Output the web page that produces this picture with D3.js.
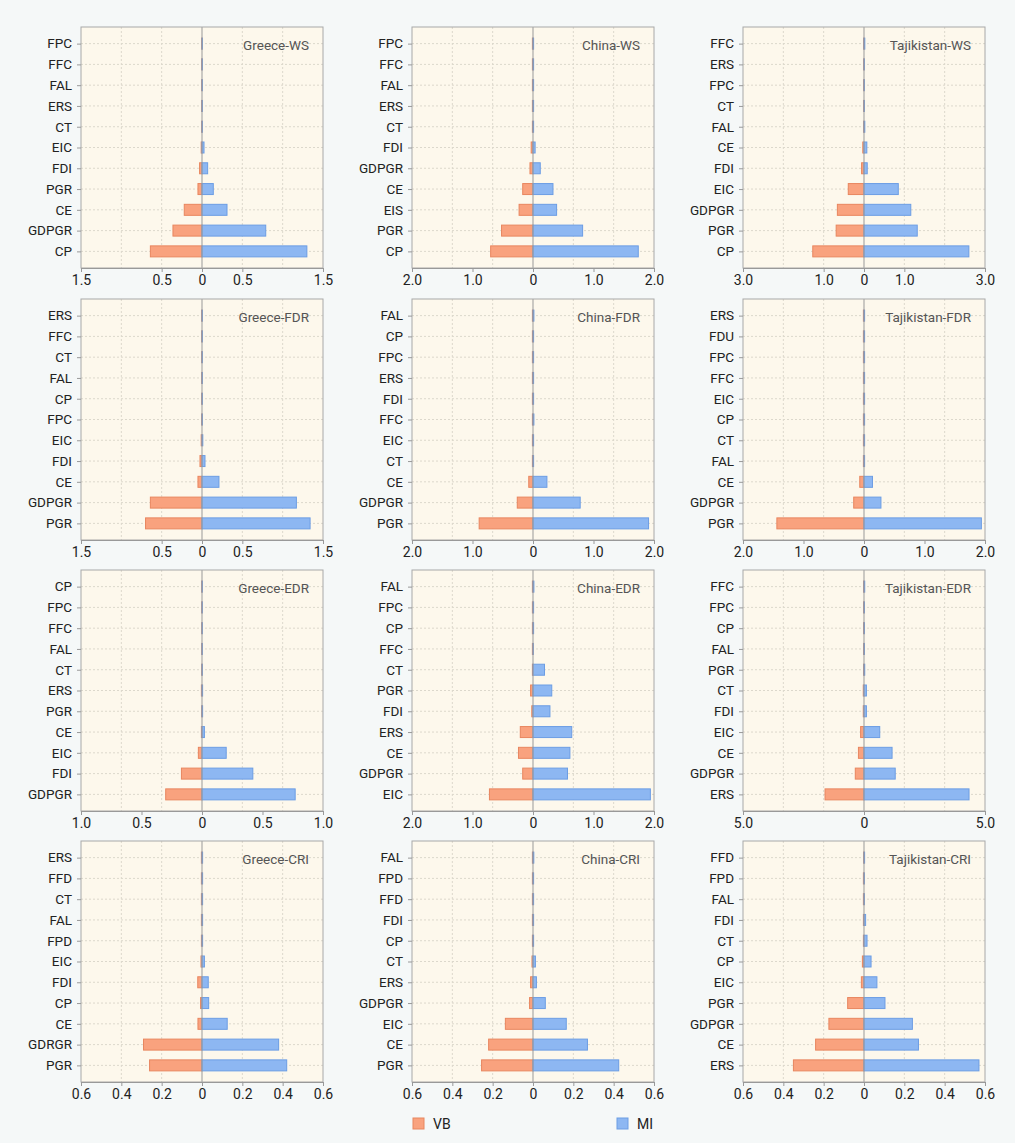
<!DOCTYPE html>
<html>
<head>
<meta charset="utf-8">
<script src="https://cdn.jsdelivr.net/npm/d3@7"></script>
<style>
  body { margin: 0; background: #f5f8f8; }
  svg { display: block; font-family: Roboto, "Noto Sans", sans-serif; }
</style>
</head>
<body>
<div id="chart"></div>
<script>
const width = 1015
const height = 1143

// panel titles, axis half-range and labelled ticks (row by row)
const titles = ["Greece-WS", "China-WS", "Tajikistan-WS",
                "Greece-FDR", "China-FDR", "Tajikistan-FDR",
                "Greece-EDR", "China-EDR", "Tajikistan-EDR",
                "Greece-CRI", "China-CRI", "Tajikistan-CRI"]
const axisMax = [1.5, 2.0, 3.0, 1.5, 2.0, 2.0, 1.0, 2.0, 5.0, 0.6, 0.6, 0.6]
const tickVals = [
    [-1.5, -0.5, 0, 0.5, 1.5], [-2, -1, 0, 1, 2], [-3, -1, 0, 1, 3],
    [-1.5, -0.5, 0, 0.5, 1.5], [-2, -1, 0, 1, 2], [-2, -1, 0, 1, 2],
    [-1, -0.5, 0, 0.5, 1], [-2, -1, 0, 1, 2], [-5, 0, 5],
    [-0.6, -0.4, -0.2, 0, 0.2, 0.4, 0.6], [-0.6, -0.4, -0.2, 0, 0.2, 0.4, 0.6], [-0.6, -0.4, -0.2, 0, 0.2, 0.4, 0.6]
]

// categories top -> bottom, VB (left) and MI (right) values
const catsGreeceWS = ["FPC", "FFC", "FAL", "ERS", "CT", "EIC", "FDI", "PGR", "CE", "GDPGR", "CP"]
const vbGreeceWS = [0.005, 0.005, 0.005, 0.005, 0.005, 0.01, 0.03, 0.05, 0.22, 0.36, 0.64]
const miGreeceWS = [0.005, 0.005, 0.005, 0.005, 0.005, 0.025, 0.07, 0.14, 0.31, 0.79, 1.30]

const catsChinaWS = ["FPC", "FFC", "FAL", "ERS", "CT", "FDI", "GDPGR", "CE", "EIS", "PGR", "CP"]
const vbChinaWS = [0.01, 0.01, 0.01, 0.01, 0.01, 0.03, 0.05, 0.17, 0.23, 0.52, 0.70]
const miChinaWS = [0.01, 0.01, 0.01, 0.01, 0.01, 0.035, 0.12, 0.33, 0.39, 0.82, 1.74]

const catsTajikWS = ["FFC", "ERS", "FPC", "CT", "FAL", "CE", "FDI", "EIC", "GDPGR", "PGR", "CP"]
const vbTajikWS = [0.01, 0.01, 0.01, 0.01, 0.01, 0.03, 0.06, 0.39, 0.66, 0.69, 1.27]
const miTajikWS = [0.02, 0.01, 0.01, 0.01, 0.02, 0.07, 0.08, 0.85, 1.16, 1.32, 2.60]

const catsGreeceFDR = ["ERS", "FFC", "CT", "FAL", "CP", "FPC", "EIC", "FDI", "CE", "GDPGR", "PGR"]
const vbGreeceFDR = [0.005, 0.005, 0.005, 0.005, 0.005, 0.005, 0.01, 0.025, 0.05, 0.64, 0.70]
const miGreeceFDR = [0.005, 0.005, 0.005, 0.005, 0.005, 0.005, 0.01, 0.037, 0.21, 1.17, 1.34]

const catsChinaFDR = ["FAL", "CP", "FPC", "ERS", "FDI", "FFC", "EIC", "CT", "CE", "GDPGR", "PGR"]
const vbChinaFDR = [0.01, 0.01, 0.01, 0.01, 0.01, 0.01, 0.01, 0.01, 0.07, 0.26, 0.89]
const miChinaFDR = [0.015, 0.01, 0.01, 0.01, 0.01, 0.015, 0.01, 0.01, 0.23, 0.78, 1.91]

const catsTajikFDR = ["ERS", "FDU", "FPC", "FFC", "EIC", "CP", "CT", "FAL", "CE", "GDPGR", "PGR"]
const vbTajikFDR = [0.01, 0.01, 0.01, 0.01, 0.01, 0.01, 0.01, 0.01, 0.07, 0.17, 1.44]
const miTajikFDR = [0.01, 0.01, 0.01, 0.01, 0.01, 0.01, 0.01, 0.01, 0.14, 0.28, 1.94]

const catsGreeceEDR = ["CP", "FPC", "FFC", "FAL", "CT", "ERS", "PGR", "CE", "EIC", "FDI", "GDPGR"]
const vbGreeceEDR = [0.003, 0.003, 0.003, 0.003, 0.003, 0.005, 0.003, 0.005, 0.03, 0.17, 0.30]
const miGreeceEDR = [0.003, 0.003, 0.003, 0.003, 0.003, 0.005, 0.005, 0.02, 0.20, 0.42, 0.77]

const catsChinaEDR = ["FAL", "FPC", "CP", "FFC", "CT", "PGR", "FDI", "ERS", "CE", "GDPGR", "EIC"]
const vbChinaEDR = [0.01, 0.01, 0.01, 0.01, 0.01, 0.04, 0.02, 0.21, 0.24, 0.17, 0.72]
const miChinaEDR = [0.015, 0.01, 0.01, 0.005, 0.19, 0.31, 0.28, 0.64, 0.61, 0.57, 1.94]

const catsTajikEDR = ["FFC", "FPC", "CP", "FAL", "PGR", "CT", "FDI", "EIC", "CE", "GDPGR", "ERS"]
const vbTajikEDR = [0.02, 0.02, 0.02, 0.02, 0.02, 0.03, 0.03, 0.14, 0.23, 0.36, 1.61]
const miTajikEDR = [0.03, 0.02, 0.02, 0.02, 0.03, 0.10, 0.10, 0.65, 1.16, 1.29, 4.34]

const catsGreeceCRI = ["ERS", "FFD", "CT", "FAL", "FPD", "EIC", "FDI", "CP", "CE", "GDRGR", "PGR"]
const vbGreeceCRI = [0.003, 0.003, 0.003, 0.003, 0.003, 0.005, 0.021, 0.007, 0.02, 0.29, 0.26]
const miGreeceCRI = [0.003, 0.003, 0.003, 0.003, 0.003, 0.012, 0.031, 0.033, 0.125, 0.38, 0.42]

const catsChinaCRI = ["FAL", "FPD", "FFD", "FDI", "CP", "CT", "ERS", "GDPGR", "EIC", "CE", "PGR"]
const vbChinaCRI = [0.003, 0.003, 0.003, 0.003, 0.003, 0.005, 0.012, 0.017, 0.137, 0.22, 0.255]
const miChinaCRI = [0.004, 0.003, 0.003, 0.003, 0.003, 0.012, 0.017, 0.061, 0.165, 0.27, 0.425]

const catsTajikCRI = ["FFD", "FPD", "FAL", "FDI", "CT", "CP", "EIC", "PGR", "GDPGR", "CE", "ERS"]
const vbTajikCRI = [0.002, 0.003, 0.003, 0.003, 0.003, 0.008, 0.013, 0.081, 0.174, 0.24, 0.35]
const miTajikCRI = [0.003, 0.002, 0.002, 0.008, 0.015, 0.035, 0.064, 0.104, 0.24, 0.27, 0.57]

const legendKeys = ["VB", "MI"]

const panelCats = [catsGreeceWS, catsChinaWS, catsTajikWS, catsGreeceFDR, catsChinaFDR, catsTajikFDR,
                   catsGreeceEDR, catsChinaEDR, catsTajikEDR, catsGreeceCRI, catsChinaCRI, catsTajikCRI]
const panelVB = [vbGreeceWS, vbChinaWS, vbTajikWS, vbGreeceFDR, vbChinaFDR, vbTajikFDR,
                 vbGreeceEDR, vbChinaEDR, vbTajikEDR, vbGreeceCRI, vbChinaCRI, vbTajikCRI]
const panelMI = [miGreeceWS, miChinaWS, miTajikWS, miGreeceFDR, miChinaFDR, miTajikFDR,
                 miGreeceEDR, miChinaEDR, miTajikEDR, miGreeceCRI, miChinaCRI, miTajikCRI]

// layout
const colLeft = [81, 412, 743]
const rowTop = [27, 299, 570, 841]
const plotW = 242
const plotH = 241
const barH = 11

const colVB = {fill: "#f9a27e", stroke: "#e8865f"}
const colMI = {fill: "#8db7f2", stroke: "#6c9de4"}

const svg = d3.select("#chart").append("svg")
    .attr("width", width)
    .attr("height", height)

const fmt = v => v === 0 ? "0" : Math.abs(v).toFixed(1)

titles.forEach((title, i) => {
    const m = axisMax[i]
    const cats = panelCats[i]
    const rows = cats.map((c, k) => ({cat: c, vb: panelVB[i][k], mi: panelMI[i][k]}))

    const x = d3.scaleLinear().domain([-m, m]).range([0, plotW])
    const y = d3.scalePoint().domain(cats).range([0, plotH]).padding(0.8)

    const g = svg.append("g")
        .attr("transform", `translate(${colLeft[i % 3]},${rowTop[Math.floor(i / 3)]})`)

    g.append("rect")
        .attr("width", plotW)
        .attr("height", plotH)
        .attr("fill", "#fdf8ec")

    // vertical grid: 6 equal divisions
    const vgrid = d3.range(1, 6).filter(k => k !== 3).map(k => -m + k * m / 3)
    g.selectAll(".vgrid")
        .data(vgrid)
        .join("line")
        .attr("class", "vgrid")
        .attr("x1", d => x(d)).attr("x2", d => x(d))
        .attr("y1", 0).attr("y2", plotH)
        .attr("stroke", "#dcd8cc")
        .attr("stroke-dasharray", "2,2")

    g.selectAll(".hgrid")
        .data(cats)
        .join("line")
        .attr("class", "hgrid")
        .attr("x1", 0).attr("x2", plotW)
        .attr("y1", d => y(d)).attr("y2", d => y(d))
        .attr("stroke", "#dcd8cc")
        .attr("stroke-dasharray", "2,2")

    g.selectAll(".vb")
        .data(rows)
        .join("rect")
        .attr("class", "vb")
        .attr("x", d => x(-d.vb))
        .attr("y", d => y(d.cat) - barH / 2)
        .attr("width", d => x(0) - x(-d.vb))
        .attr("height", barH)
        .attr("fill", colVB.fill)
        .attr("stroke", colVB.stroke)
        .attr("stroke-width", 1)

    g.selectAll(".mi")
        .data(rows)
        .join("rect")
        .attr("class", "mi")
        .attr("x", x(0))
        .attr("y", d => y(d.cat) - barH / 2)
        .attr("width", d => x(d.mi) - x(0))
        .attr("height", barH)
        .attr("fill", colMI.fill)
        .attr("stroke", colMI.stroke)
        .attr("stroke-width", 1)

    g.append("line")
        .attr("x1", x(0)).attr("x2", x(0))
        .attr("y1", 0).attr("y2", plotH)
        .attr("stroke", "#999")
        .attr("stroke-width", 1)

    g.append("rect")
        .attr("width", plotW)
        .attr("height", plotH)
        .attr("fill", "none")
        .attr("stroke", "#a8a8a8")

    const yAxis = g.append("g")
        .call(d3.axisLeft(y).tickSize(4).tickPadding(5))
    yAxis.select(".domain").remove()
    yAxis.selectAll("line").attr("stroke", "#999")
    yAxis.selectAll("text")
        .attr("font-size", 13.5)
        .attr("fill", "#222")
        .attr("font-family", "Roboto, sans-serif")

    const xAxis = g.append("g")
        .attr("transform", `translate(0,${plotH})`)
        .call(d3.axisBottom(x).tickValues(tickVals[i]).tickFormat(fmt).tickSize(4).tickPadding(3))
    xAxis.select(".domain").attr("stroke", "#999")
    xAxis.selectAll("line").attr("stroke", "#999")
    xAxis.selectAll("text")
        .attr("font-size", 14)
        .attr("fill", "#222")
        .attr("font-family", "Roboto, sans-serif")

    g.append("text")
        .attr("x", plotW - 14)
        .attr("y", 23)
        .attr("text-anchor", "end")
        .attr("font-size", 13.5)
        .attr("fill", "#555")
        .text(title)
})

// legend
const legend = svg.append("g")
    .attr("transform", "translate(0,1118)")
const legendX = d3.scaleOrdinal().domain(legendKeys).range([413, 617])
const legendCol = d3.scaleOrdinal().domain(legendKeys).range([colVB, colMI])

const item = legend.selectAll(".item")
    .data(legendKeys)
    .join("g")
    .attr("class", "item")
    .attr("transform", d => `translate(${legendX(d)},0)`)
item.append("rect")
    .attr("width", 11)
    .attr("height", 11)
    .attr("fill", d => legendCol(d).fill)
    .attr("stroke", d => legendCol(d).stroke)
item.append("text")
    .attr("x", 20)
    .attr("y", 10.5)
    .attr("font-size", 14)
    .attr("fill", "#222")
    .text(d => d)
</script>
</body>
</html>
